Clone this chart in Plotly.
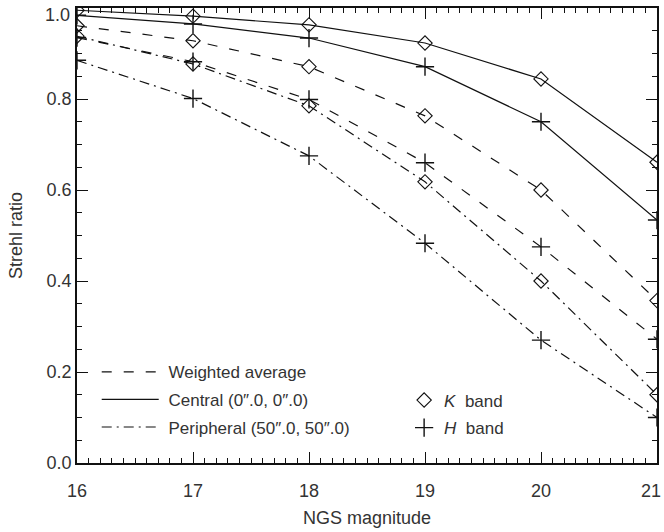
import plotly.graph_objects as go

mag = [16, 17, 18, 19, 20, 21]
central_K = [0.995, 0.982, 0.963, 0.923, 0.844, 0.661]
central_H = [0.984, 0.965, 0.934, 0.871, 0.750, 0.534]
weighted_K = [0.961, 0.928, 0.871, 0.763, 0.600, 0.357]
weighted_H = [0.935, 0.882, 0.799, 0.660, 0.475, 0.272]
peripheral_K = [0.938, 0.877, 0.785, 0.618, 0.400, 0.150]
peripheral_H = [0.885, 0.801, 0.675, 0.483, 0.270, 0.100]

x_ticks = [16, 17, 18, 19, 20, 21]
x_tick_labels = ["16", "17", "18", "19", "20", "21"]
y_ticks = [0.0, 0.2, 0.4, 0.6, 0.8, 1.0]
y_tick_labels = ["0.0", "0.2", "0.4", "0.6", "0.8", "1.0"]

line_labels = ["\u00a0Weighted average", "\u00a0Central (0\u2033.0, 0\u2033.0)", "\u00a0Peripheral (50\u2033.0, 50\u2033.0)"]
band_labels = ["<i>K</i>  band", "<i>H</i>  band"]

DASH = "10px,12px"
DASHDOT = "10px,5px,2px,5px"
INK = "#111111"
TXT = "#333333"
FONT = "Liberation Sans, Arial, sans-serif"

diamond = dict(symbol="diamond-open", size=11, color=INK, line=dict(width=1.1, color=INK))
plus = dict(symbol="cross-thin-open", size=13, color=INK, line=dict(width=1.4, color=INK))

fig = go.Figure()

series = [
    (weighted_K, DASH, diamond),
    (weighted_H, DASH, plus),
    (central_K, "solid", diamond),
    (central_H, "solid", plus),
    (peripheral_K, DASHDOT, diamond),
    (peripheral_H, DASHDOT, plus),
]
for ys, dash, mk in series:
    fig.add_trace(go.Scatter(x=mag, y=ys, mode="lines+markers",
                             line=dict(color=INK, width=1.2, dash=dash),
                             marker=mk, showlegend=False, cliponaxis=True))

for i, (lab, dash) in enumerate(zip(line_labels, [DASH, "solid", DASHDOT])):
    fig.add_trace(go.Scatter(x=[None], y=[None], mode="lines", name=lab,
                             line=dict(color=INK, width=1.2, dash=dash),
                             legend="legend", legendgroup="l%d" % i))
for i, (lab, mk) in enumerate(zip(band_labels, [diamond, plus])):
    fig.add_trace(go.Scatter(x=[None], y=[None], mode="markers", name=lab,
                             marker=mk, legend="legend2", legendgroup="b%d" % i))

axis_common = dict(
    showgrid=False, zeroline=False, showline=True, linecolor=INK, linewidth=1.5,
    mirror="allticks", ticks="inside", ticklen=11, tickwidth=1.2, tickcolor=INK,
    tickfont=dict(family=FONT, size=18, color=TXT), automargin=False,
    ticklabeloverflow="allow",
)

fig.update_layout(
    width=664, height=532,
    margin=dict(l=77, r=7, t=8, b=69),
    paper_bgcolor="white", plot_bgcolor="white",
    font=dict(family=FONT, size=17, color=TXT),
    xaxis=dict(range=[16, 21], tickmode="array", tickvals=x_ticks,
               ticktext=x_tick_labels[:-1] + [""],
               ticklabelstandoff=11,
               title=dict(text="NGS magnitude", font=dict(size=18), standoff=11),
               minor=dict(dtick=0.1, ticks="inside", ticklen=5, tickcolor=INK, tickwidth=1),
               **axis_common),
    yaxis=dict(range=[0, 1.0], tickmode="array", tickvals=y_ticks,
               ticktext=y_tick_labels[:-1] + [""],
               title=dict(text="Strehl ratio", font=dict(size=18), standoff=19),
               minor=dict(dtick=0.05, ticks="inside", ticklen=5, tickcolor=INK, tickwidth=1),
               **axis_common),
    legend=dict(x=0.034, y=0.239, xanchor="left", yanchor="top", bgcolor="rgba(0,0,0,0)",
                itemwidth=57, traceorder="grouped", tracegroupgap=2.5,
                font=dict(family=FONT, size=17, color=TXT)),
    legend2=dict(x=0.564, y=0.177, xanchor="left", yanchor="top", bgcolor="rgba(0,0,0,0)",
                 itemwidth=30, traceorder="grouped", tracegroupgap=2.5,
                 font=dict(family=FONT, size=17, color=TXT)),
)

# end-of-axis tick labels pulled inside the page, as in the reference
fig.add_annotation(x=0, xref="paper", y=y_ticks[-1], yref="y", text=y_tick_labels[-1],
                   showarrow=False, xanchor="right", yanchor="middle", xshift=-5, yshift=-7,
                   font=dict(family=FONT, size=18, color=TXT))
fig.add_annotation(x=x_ticks[-1], xref="x", y=0, yref="paper", text=x_tick_labels[-1],
                   showarrow=False, xanchor="right", yanchor="middle", xshift=6, yshift=-28,
                   font=dict(family=FONT, size=18, color=TXT))

fig.write_html("out.html", config={"displayModeBar": False},
               post_script="document.body.style.margin='0';")
